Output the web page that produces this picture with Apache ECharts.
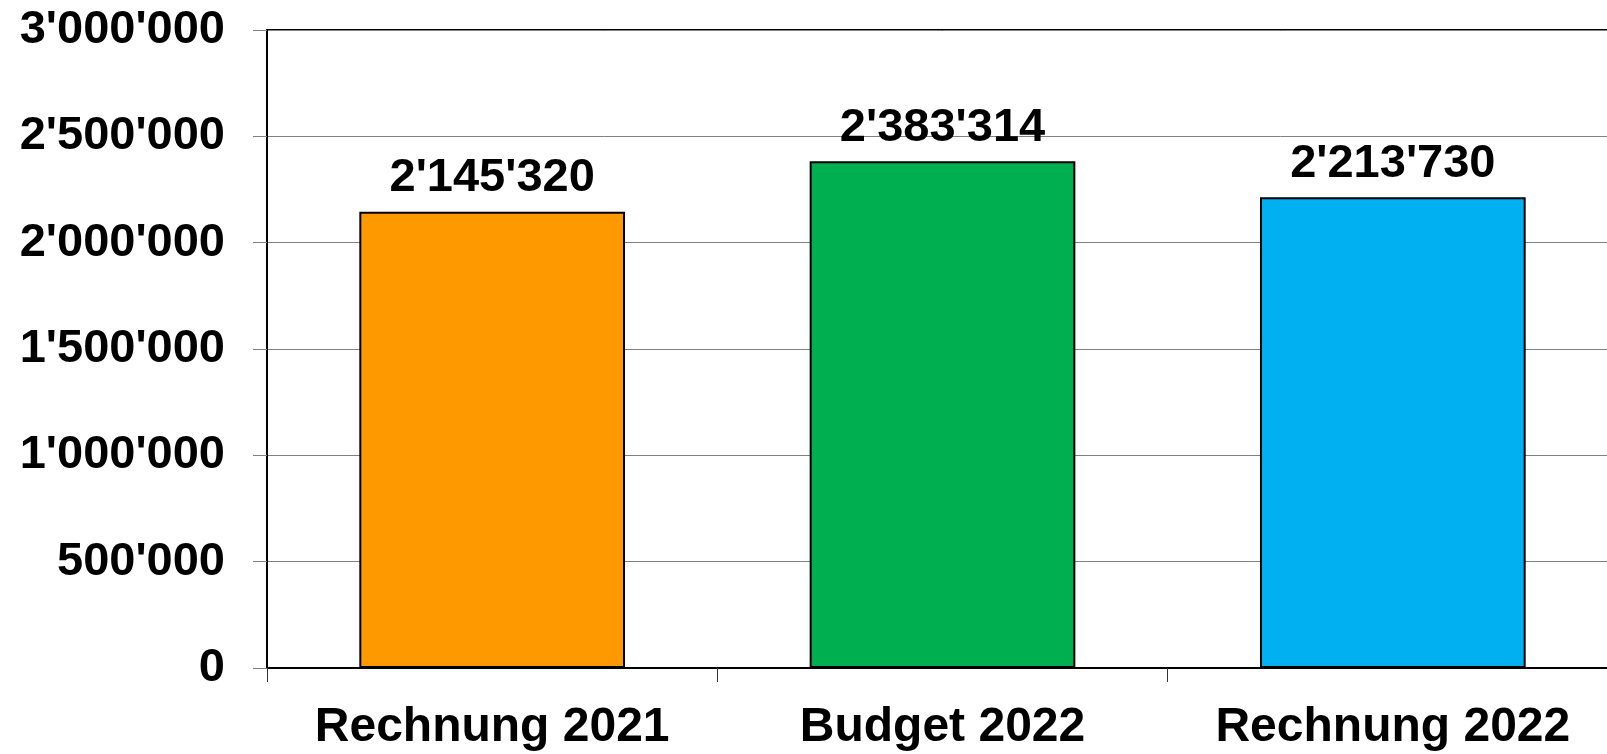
<!DOCTYPE html>
<html>
<head>
<meta charset="utf-8">
<script src="https://cdn.jsdelivr.net/npm/echarts@6/dist/echarts.min.js"></script>
<style>
html, body { margin: 0; padding: 0; background: #fff; overflow: hidden; }
#main { width: 1618px; height: 754px; }
</style>
</head>
<body>
<div id="main"></div>
<script>
var categories = ['Rechnung 2021', 'Budget 2022', 'Rechnung 2022'];
var values = [2145320, 2383314, 2213730];
var barColors = ['#FF9900', '#00B050', '#00B0F0'];

var fontFam = 'Arial, "Liberation Sans", sans-serif';

function fmt(v) {
	return String(Math.round(v)).replace(/\B(?=(\d{3})+(?!\d))/g, "'");
}

// the plot runs past the right edge of the window, as in the original
var myChart = echarts.init(document.getElementById('main'));
var option = {
	animation: false,
	backgroundColor: '#fff',
	grid: {
		left: 267,
		top: 30,
		right: 0,
		bottom: 86,
		show: true,
		borderColor: '#000',
		borderWidth: 2,
		containLabel: false
	},
	xAxis: {
		type: 'category',
		data: categories,
		axisLine: { show: true, lineStyle: { color: '#000', width: 2 } },
		axisTick: { show: true, length: 14, lineStyle: { color: '#333', width: 1 } },
		axisLabel: {
			interval: 0,
			color: '#000',
			fontSize: 48,
			fontWeight: 'bold',
			fontFamily: fontFam,
			margin: 36
		}
	},
	yAxis: {
		type: 'value',
		min: 0,
		max: 3000000,
		interval: 500000,
		axisLine: { show: true, lineStyle: { color: '#000', width: 2 } },
		axisTick: { show: true, length: 14, lineStyle: { color: '#808080', width: 1 } },
		splitLine: { show: true, lineStyle: { color: '#808080', width: 1 } },
		axisLabel: {
			color: '#000',
			fontSize: 47,
			fontWeight: 'bold',
			fontFamily: fontFam,
			margin: 42,
			formatter: fmt
		}
	},
	series: [{
		type: 'bar',
		barWidth: '59%',
		data: values.map(function(v, i) {
			return {
				value: v,
				itemStyle: { color: barColors[i] }
			};
		}),
		itemStyle: {
			borderColor: '#000',
			borderWidth: 2
		},
		label: {
			show: true,
			position: 'top',
			distance: 10,
			color: '#000',
			fontSize: 47,
			fontWeight: 'bold',
			fontFamily: fontFam,
			formatter: function(p) { return fmt(p.value); }
		}
	}]
};
myChart.setOption(option);
</script>
</body>
</html>
